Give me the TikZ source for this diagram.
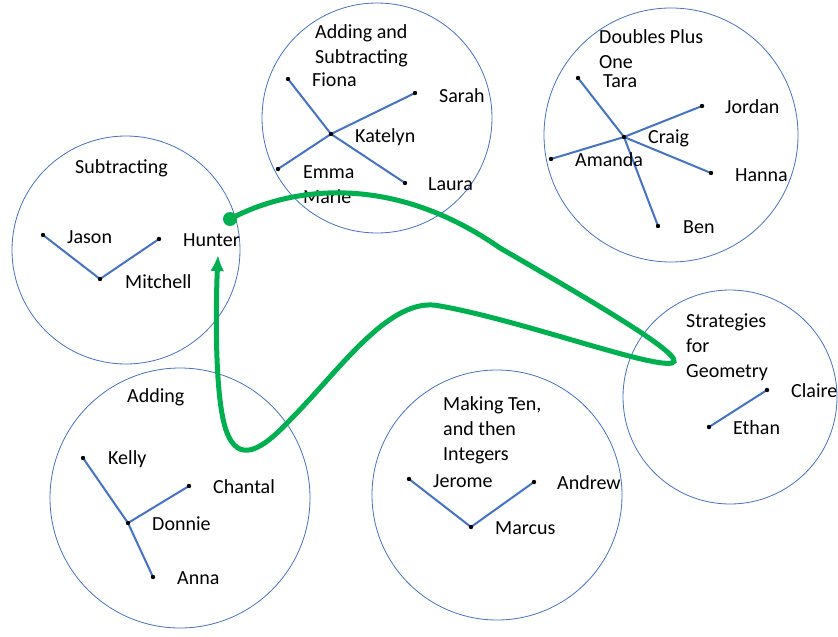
\documentclass[tikz,border=0pt]{standalone}
\usepackage{fontspec}
\setmainfont{Carlito}
\usetikzlibrary{arrows.meta}
\definecolor{ringblue}{HTML}{4472C4}
\definecolor{pathgreen}{HTML}{00B050}

\begin{document}
\begin{tikzpicture}[x=1pt,y=-1pt,
  group/.style={draw=ringblue,line width=0.8pt},
  link/.style={draw=ringblue,line width=2pt},
  who/.style={anchor=west,inner sep=0pt,font=\fontsize{20}{25}\selectfont},
  title/.style={who,align=left},
  trip/.style={draw=pathgreen,line width=5pt}]
\def\rd{2.2pt}
\useasboundingbox (0,0) rectangle (838,637);
% the six groups
\foreach \cx/\cy/\r in {126/250/114,377/118/115,671/135/127,730/397/107,497/495/125,180/498/130}{
\draw[group] (\cx,\cy) circle (\r pt);}
% seats
\foreach \n/\x/\y in {jason/43/235,hunter/159/239,mitchell/100/279,
  fiona/288/79,laura/405/183,emma/278/169,sarah/415/93,katelyn/331/134,
  tara/578/78,jordan/702/106,amanda/551/159,hanna/711/173,ben/658/226,craig/624/137,
  claire/767/390,ethan/709/427,jerome/409/479,marcus/471/527,andrew/534/482,
  kelly/83/458,chantal/189/486,donnie/128/523,anna/153/577}{
\coordinate (d\n) at (\x,\y);}
\foreach \a/\b in {mitchell/jason,mitchell/hunter,katelyn/fiona,katelyn/laura,katelyn/emma,katelyn/sarah,
  craig/tara,craig/jordan,craig/amanda,craig/hanna,craig/ben,ethan/claire,
  marcus/jerome,marcus/andrew,donnie/kelly,donnie/chantal,donnie/anna}{
\draw[link] (d\a) -- (d\b);}
\foreach \n in {jason,hunter,mitchell,fiona,laura,emma,sarah,katelyn,tara,jordan,amanda,hanna,ben,craig,
  claire,ethan,jerome,marcus,andrew,kelly,chantal,donnie,anna}{
\fill (d\n) circle (\rd);}
% names
\foreach \n/\x/\y/\t in {jason/67/237/Jason,hunter/183/240/Hunter,mitchell/125/282/Mitchell,
  fiona/312/80/Fiona,sarah/439/96/Sarah,katelyn/355/137/Katelyn,laura/428/184/Laura,
  tara/603/81/Tara,jordan/725/107/Jordan,craig/648/138/Craig,amanda/575/160/Amanda,
  hanna/735/175/Hanna,ben/683/227/Ben,claire/791/391/Claire,ethan/733/428/Ethan,
  jerome/433/481/Jerome,andrew/557/483/Andrew,marcus/495/528/Marcus,
  kelly/108/459/Kelly,chantal/213/487/Chantal,donnie/152/524/Donnie,anna/177/578/Anna}{
\node[who] (\n) at (\x,\y) {\t};}
\node[title] (emma) at (303,185) {Emma\\Marie};
\node[title] (subtracting) at (75,168) {Subtracting};
\node[title] (addsub) at (315,45.5) {Adding and\\Subtracting};
\node[title] (doubles) at (599,49) {Doubles Plus\\One};
\node[title] (geometry) at (686,347) {Strategies\\for\\Geometry};
\node[title] (maketen) at (443,430.5) {Making Ten,\\and then\\Integers};
\node[title] (adding) at (127,397) {Adding};
% the move
\node[circle,fill=pathgreen,inner sep=0pt,minimum size=14pt] (start) at (230,219) {};
\coordinate (arrive) at (218,255);
\draw[trip,-{Latex[length=16pt,width=14pt]}] (start.center)
  .. controls (300,182) and (400,178) .. (500,248)
  .. controls (590,300) and (690,358) .. (672,363)
  .. controls (650,368) and (520,320) .. (440,306)
  .. controls (390,295) and (340,370) .. (290,420)
  .. controls (262,450) and (238,465) .. (226,430)
  .. controls (214,395) and (216,300) .. (arrive);
\end{tikzpicture}
\end{document}
